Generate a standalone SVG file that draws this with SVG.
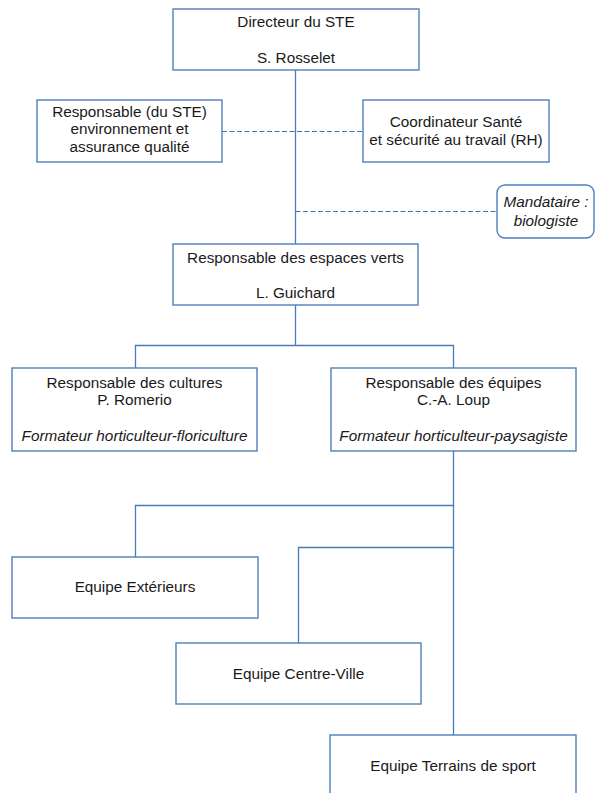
<svg xmlns="http://www.w3.org/2000/svg" width="596" height="793" viewBox="0 0 596 793">
<style>
.box{fill:#ffffff;stroke:#4f7fbd;stroke-width:1.4}
.ln{fill:none;stroke:#4a7ab8;stroke-width:1.3}
.dash{fill:none;stroke:#3f6fb0;stroke-width:1.2;stroke-dasharray:5 2.5}
text{font-family:"Liberation Sans",Arial,sans-serif;font-size:15.3px;fill:#1a1a1a;text-anchor:middle}
.it{font-style:italic}
</style>
<rect width="596" height="793" fill="#ffffff"/>
<g id="connectors">
<path class="ln" d="M295.5 70V244"/>
<path class="dash" d="M222 131.5H363"/>
<path class="dash" d="M295.5 211.5H497"/>
<path class="ln" d="M295.5 305V345.5M135.5 368V345.5H453.5V368"/>
<path class="ln" d="M453.5 451V735"/>
<path class="ln" d="M135.5 557V505.5H453.5"/>
<path class="ln" d="M298.5 643V547.5H453.5"/>
</g>
<g id="directeur">
<rect class="box" x="173" y="9" width="246" height="61"/>
<text x="296" y="27">Directeur du STE</text>
<text x="296" y="63">S. Rosselet</text>
</g>
<g id="resp-env">
<rect class="box" x="37" y="100" width="185" height="62"/>
<text x="129.5" y="117">Responsable (du STE)</text>
<text x="129.5" y="134">environnement et</text>
<text x="129.5" y="152">assurance qualité</text>
</g>
<g id="coord-sante">
<rect class="box" x="363" y="100" width="186" height="62"/>
<text x="456" y="127">Coordinateur Santé</text>
<text x="456" y="145">et sécurité au travail (RH)</text>
</g>
<g id="mandataire">
<rect class="box" x="497" y="185" width="97" height="53" rx="8"/>
<text class="it" x="546" y="207">Mandataire :</text>
<text class="it" x="546" y="226">biologiste</text>
</g>
<g id="resp-espaces-verts">
<rect class="box" x="173" y="244" width="245" height="61"/>
<text x="295.5" y="263">Responsable des espaces verts</text>
<text x="295.5" y="298">L. Guichard</text>
</g>
<g id="resp-cultures">
<rect class="box" x="12" y="368" width="245" height="83"/>
<text x="134.5" y="388">Responsable des cultures</text>
<text x="134.5" y="405">P. Romerio</text>
<text class="it" x="134.5" y="441">Formateur horticulteur-floriculture</text>
</g>
<g id="resp-equipes">
<rect class="box" x="331" y="368" width="245" height="83"/>
<text x="453.5" y="388">Responsable des équipes</text>
<text x="453.5" y="405">C.-A. Loup</text>
<text class="it" x="453.5" y="441">Formateur horticulteur-paysagiste</text>
</g>
<g id="equipe-exterieurs">
<rect class="box" x="12" y="557" width="246" height="61"/>
<text x="135" y="592">Equipe Extérieurs</text>
</g>
<g id="equipe-centre-ville">
<rect class="box" x="176" y="643" width="245" height="61"/>
<text x="298.5" y="679">Equipe Centre-Ville</text>
</g>
<g id="equipe-terrains">
<rect class="box" x="330" y="735" width="246" height="70"/>
<text x="453" y="771">Equipe Terrains de sport</text>
</g>
</svg>
